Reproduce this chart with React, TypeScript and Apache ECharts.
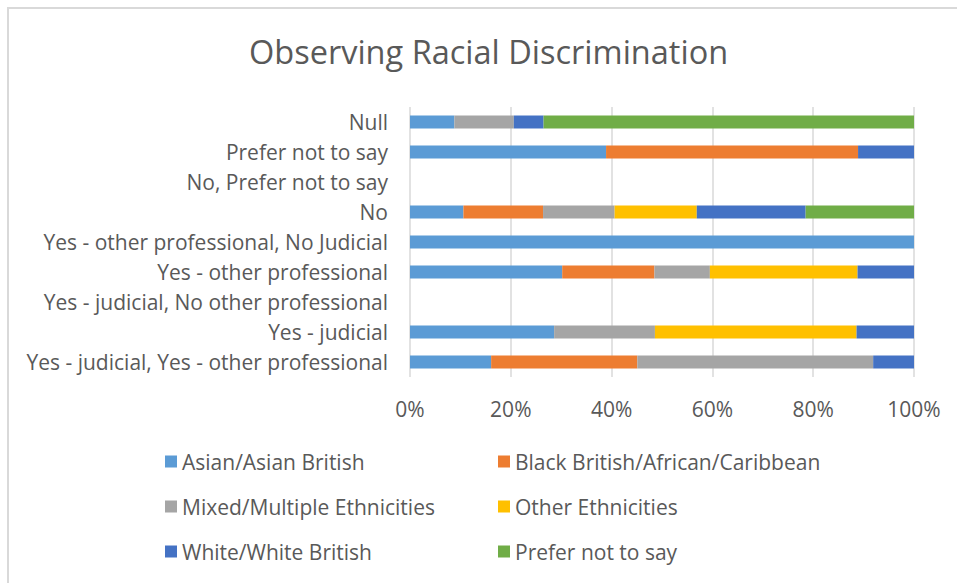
import React, { useEffect, useRef } from "react";
import * as echarts from "echarts";

const categories = [
  "Yes - judicial, Yes - other professional",
  "Yes - judicial",
  "Yes - judicial, No other professional",
  "Yes - other professional",
  "Yes - other professional, No Judicial",
  "No",
  "No, Prefer not to say",
  "Prefer not to say",
  "Null",
];

const seriesNames = [
  "Asian/Asian British",
  "Black British/African/Caribbean",
  "Mixed/Multiple Ethnicities",
  "Other Ethnicities",
  "White/White British",
  "Prefer not to say",
];

const asian = [16.1, 28.6, 0, 30.2, 100, 10.6, 0, 38.9, 8.8];
const black = [29.0, 0, 0, 18.3, 0, 15.8, 0, 50.0, 0];
const mixed = [46.8, 20.0, 0, 11.0, 0, 14.2, 0, 0, 11.8];
const other = [0, 40.0, 0, 29.3, 0, 16.3, 0, 0, 0];
const white = [8.1, 11.4, 0, 11.2, 0, 21.6, 0, 11.1, 5.9];
const preferNot = [0, 0, 0, 0, 0, 21.5, 0, 0, 73.5];

const xTicks = [0, 20, 40, 60, 80, 100];

const colors = ["#5B9BD5", "#ED7D31", "#A5A5A5", "#FFC000", "#4472C4", "#70AD47"];

const FONT = "Open Sans";
const TEXT = "#595959";

export default function App() {
  const ref = useRef<HTMLDivElement>(null);
  useEffect(() => {
    if (!ref.current) return;
    const chart = echarts.init(ref.current, undefined, { renderer: "svg" });
    const values = [asian, black, mixed, other, white, preferNot];
    const legendBase = {
      orient: "vertical",
      top: 451,
      itemWidth: 12,
      itemHeight: 12,
      itemGap: 24,
      icon: "rect",
      padding: 0,
      textStyle: { fontFamily: FONT, fontSize: 21, color: TEXT, lineHeight: 21 },
    };
    chart.setOption({
      animation: false,
      backgroundColor: "#ffffff",
      title: {
        text: "Observing Racial Discrimination",
        left: 244,
        top: 30,
        textStyle: { fontFamily: FONT, fontSize: 32.5, fontWeight: "normal", color: TEXT },
      },
      graphic: [
        {
          type: "rect",
          shape: { x: 8, y: 8, width: 1000, height: 700 },
          style: { fill: "none", stroke: "#d9d9d9", lineWidth: 2 },
          silent: true,
        },
      ],
      legend: [
        { ...legendBase, left: 165, data: [seriesNames[0], seriesNames[2], seriesNames[4]] },
        { ...legendBase, left: 498, data: [seriesNames[1], seriesNames[3], seriesNames[5]] },
      ],
      grid: { left: 410, right: 43, top: 107, bottom: 206, containLabel: false },
      xAxis: {
        type: "value",
        min: xTicks[0],
        max: xTicks[xTicks.length - 1],
        interval: 20,
        axisLine: { show: false },
        axisTick: { show: false },
        splitLine: { show: true, lineStyle: { color: "#d9d9d9", width: 1.5 } },
        axisLabel: {
          formatter: "{value}%",
          margin: 21,
          fontFamily: FONT,
          fontSize: 21,
          color: TEXT,
        },
      },
      yAxis: {
        type: "category",
        data: categories,
        axisLine: { show: false },
        axisTick: { show: false },
        splitLine: { show: false },
        axisLabel: {
          margin: 22,
          fontFamily: FONT,
          fontSize: 21,
          color: TEXT,
        },
      },
      series: seriesNames.map((name, i) => ({
        name,
        type: "bar",
        stack: "total",
        barWidth: 13,
        data: values[i],
        itemStyle: { color: colors[i] },
        emphasis: { disabled: true },
      })),
    });
    return () => chart.dispose();
  }, []);
  return (
    <div
      ref={ref}
      style={{ position: "fixed", left: 0, top: 0, width: 957, height: 583 }}
    />
  );
}
